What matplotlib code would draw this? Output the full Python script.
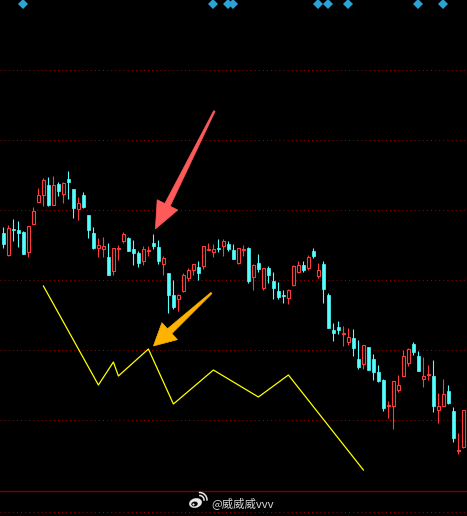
import numpy as np
import matplotlib
matplotlib.use("Agg")
import matplotlib.pyplot as plt
from matplotlib.patches import Polygon, Ellipse, Arc

# ---------------- data ----------------
opens = [28.7, 26.5, 29.1, 29.0, 28.8, 26.8, 29.6, 31.8, 32.5, 33.5,
         31.5, 33.6, 32.6, 34.1, 33.1, 31.1, 32.5, 30.5, 28.7, 27.2,
         27.1, 26.3, 24.9, 27.1, 27.9, 28.2, 27.1, 26.7, 25.9, 26.9,
         27.7, 27.3, 25.6, 24.7, 22.5, 22.1, 22.9, 24.2, 25.0, 25.3,
         25.4, 27.0, 26.8, 27.2, 27.4, 27.6, 27.0, 25.7, 27.0, 27.2,
         24.3, 25.7, 23.2, 25.2, 23.9, 22.9, 22.5, 22.2, 23.5, 24.8,
         25.5, 25.2, 26.9, 24.4, 25.6, 22.5, 19.0, 19.3, 18.6, 17.8,
         18.2, 16.1, 15.6, 17.3, 16.1, 14.8, 14.0, 11.4, 11.4, 13.0,
         14.4, 15.7, 17.6, 16.4, 14.1, 14.5, 14.4, 11.0, 11.4, 12.9,
         10.9, 6.9, 7.3]
closes = [27.6, 29.2, 29.0, 28.7, 26.6, 29.4, 30.9, 32.5, 34.0, 31.5,
          33.5, 32.9, 33.7, 33.8, 31.2, 31.7, 31.3, 29.0, 27.2, 27.5,
          27.4, 24.5, 27.2, 27.2, 28.6, 26.9, 26.7, 25.7, 27.1, 27.0,
          27.4, 25.9, 26.2, 22.5, 21.3, 22.5, 24.5, 25.0, 25.6, 24.7,
          27.4, 27.1, 27.1, 27.1, 27.9, 27.1, 26.1, 27.2, 27.1, 23.9,
          25.5, 25.1, 25.2, 24.5, 23.2, 22.3, 22.4, 23.0, 25.4, 25.5,
          25.0, 26.3, 26.4, 25.0, 23.1, 19.2, 18.7, 19.0, 18.7, 18.3,
          17.2, 15.3, 17.5, 15.0, 14.8, 13.9, 11.2, 11.5, 13.9, 13.5,
          16.4, 17.1, 16.8, 14.9, 14.4, 14.6, 11.4, 11.4, 12.6, 11.7,
          8.2, 7.0, 11.0]
highs = [29.3, 29.5, 30.1, 29.9, 28.9, 29.4, 31.3, 33.2, 34.2, 34.3,
         34.4, 33.8, 33.8, 34.9, 33.1, 32.3, 32.8, 30.5, 29.3, 28.2,
         28.3, 27.7, 27.2, 27.5, 28.8, 28.3, 28.0, 26.9, 27.4, 27.4,
         28.6, 28.0, 26.4, 24.7, 24.0, 22.6, 24.7, 25.2, 25.6, 25.9,
         27.4, 27.7, 27.6, 28.1, 28.1, 27.9, 27.6, 27.2, 27.5, 27.3,
         25.6, 26.6, 25.2, 25.4, 24.8, 23.8, 23.0, 23.1, 25.5, 25.9,
         25.9, 26.5, 27.2, 25.7, 25.9, 22.7, 19.7, 19.9, 19.4, 19.2,
         19.1, 18.0, 17.5, 17.3, 16.6, 15.5, 14.1, 11.9, 13.9, 14.5,
         17.0, 17.2, 17.8, 16.9, 16.3, 15.5, 16.0, 12.7, 14.1, 13.5,
         11.3, 8.7, 11.0]
lows = [27.2, 26.4, 27.9, 27.3, 26.6, 26.3, 29.6, 31.8, 31.4, 31.4,
        31.5, 32.4, 31.7, 32.1, 30.2, 30.0, 31.2, 28.2, 27.1, 26.3,
        26.3, 24.5, 24.5, 26.0, 27.7, 26.9, 25.5, 25.3, 25.5, 26.4,
        27.1, 25.6, 24.5, 20.7, 21.1, 20.9, 22.8, 23.9, 24.5, 24.0,
        25.1, 27.0, 26.3, 26.8, 26.4, 26.9, 26.1, 25.6, 26.4, 23.7,
        23.0, 24.8, 23.0, 23.7, 22.1, 22.1, 21.7, 21.6, 23.4, 24.7,
        24.8, 25.0, 26.2, 24.2, 21.7, 19.2, 17.9, 18.6, 17.4, 17.5,
        16.4, 15.1, 15.1, 15.0, 14.0, 13.8, 10.9, 10.2, 9.1, 12.8,
        14.4, 15.4, 16.5, 14.9, 13.3, 14.0, 10.8, 9.7, 11.4, 11.6,
        7.8, 6.6, 7.2]

yellow_idx = [8, 19, 22, 23, 29, 34, 42, 51, 57, 72]
yellow_val = [23.4, 13.5, 15.8, 14.4, 17.1, 11.6, 15.0, 12.3, 14.5, 5.0]

signal_idx = [4, 42, 45, 46, 63, 65, 69, 83, 88]
signal_val = 51.6

grid_levels = [10, 17, 24, 31, 38, 45]

red_arrow_target = (30.4, 29.1)
orange_arrow_target = (30.0, 17.4)

watermark = "@威威威vvv"

# ---------------- style ----------------
UP = "#ff3b3b"
DOWN = "#54ffff"
W, H, DPI = 467, 516, 100

fig = plt.figure(figsize=(W / DPI, H / DPI), dpi=DPI, facecolor="black")
ax = fig.add_axes([0, 0, 1, 1])
ax.set_facecolor("black")
ax.set_xlim(-0.68, 92.72)
ax.set_ylim(0.4, 52.0)
ax.axis("off")

# grid lines (sparse dotted dark red)
for g in grid_levels:
    ax.axhline(g, color="#a00000", lw=0.72, dashes=(1.0, 3.1), zorder=1)
ax.axhline(2.9, color="#7a0000", lw=1.0, zorder=1)
ax.axhline(0.8, color="#a00000", lw=0.72, dashes=(1.0, 3.1), zorder=1)

# candles
n = len(opens)
xs = np.arange(n)
bw = 0.7
for i in range(n):
    o, c, h, l = opens[i], closes[i], highs[i], lows[i]
    top, bot = max(o, c), min(o, c)
    hgt = max(top - bot, 0.08)
    if c >= o:
        ax.vlines(xs[i], top, h, color=UP, lw=0.8, zorder=3)
        ax.vlines(xs[i], l, bot, color=UP, lw=0.8, zorder=3)
        ax.bar(xs[i], hgt, bottom=bot, width=bw, facecolor="black",
               edgecolor=UP, linewidth=0.8, zorder=4)
    else:
        ax.vlines(xs[i], l, h, color=DOWN, lw=0.8, zorder=3)
        ax.bar(xs[i], hgt, bottom=bot, width=bw, facecolor=DOWN,
               edgecolor=DOWN, linewidth=0.5, zorder=4)

# yellow line
ax.plot(yellow_idx, yellow_val, color="#ffff00", lw=0.9, zorder=5)

# signal diamonds
ax.plot(signal_idx, [signal_val] * len(signal_idx), ls="none", marker="D",
        markersize=5.2, color="#2aa3d6", markeredgewidth=0, zorder=6,
        clip_on=False)

# arrows (tapered), drawn in display pixels
def tapered_arrow(target, dx, dy, color, head_len, head_hw, base_w, tail_w):
    tx, ty = ax.transData.transform(target)
    T = np.array([tx, ty])
    S = T + np.array([dx, dy])
    u = (T - S) / np.linalg.norm(T - S)
    nrm = np.array([-u[1], u[0]])
    B = T - u * head_len
    pts = [T, B + nrm * head_hw, B + nrm * base_w / 2, S + nrm * tail_w / 2,
           S - nrm * tail_w / 2, B - nrm * base_w / 2, B - nrm * head_hw]
    fig.patches.append(Polygon(pts, closed=True, facecolor=color,
                               edgecolor=color, lw=0.5, transform=None,
                               zorder=10))

tapered_arrow(red_arrow_target, 59, 118, "#ff5a5a", 27, 11.5, 6, 1.5)
tapered_arrow(orange_arrow_target, 58, 53, "#ffb300", 22, 11.5, 6.5, 1.5)

# watermark: weibo-like logo + text
def px(x, y):
    return (x, H - y)

logo_col = "#e8e8e8"
fig.patches.append(Ellipse(px(195.5, 503), 13, 9.5, angle=15,
                           facecolor=logo_col, edgecolor="none",
                           transform=None, zorder=11))
fig.patches.append(Ellipse(px(194.5, 504), 6.5, 4.8, angle=10,
                           facecolor="black", edgecolor="none",
                           transform=None, zorder=12))
fig.patches.append(Ellipse(px(193.5, 504.5), 2.2, 2.2,
                           facecolor=logo_col, edgecolor="none",
                           transform=None, zorder=13))
fig.patches.append(Arc(px(199.5, 500), 9, 9, theta1=-10, theta2=95,
                       color=logo_col, lw=1.1, transform=None, zorder=11))
fig.patches.append(Arc(px(199.5, 500), 15, 15, theta1=-5, theta2=95,
                       color=logo_col, lw=1.1, transform=None, zorder=11))

fig.text(211 / W, 1 - 503 / H, watermark, color="#d8d8d8", fontsize=8.2,
         family=["Noto Sans CJK SC", "DejaVu Sans"], ha="left",
         va="center", zorder=12)

fig.savefig("out.png", dpi=DPI, facecolor="black")
